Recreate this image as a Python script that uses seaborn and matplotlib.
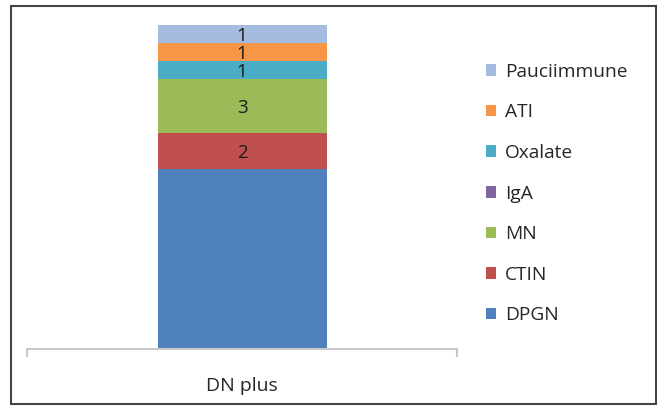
import numpy as np
import pandas as pd
import matplotlib
matplotlib.use("Agg")
import matplotlib.pyplot as plt
import seaborn as sns
from matplotlib.patches import Rectangle, Patch

# data, bottom to top of the stack
group = "DN plus"
categories = ["DPGN", "CTIN", "MN", "IgA", "Oxalate", "ATI", "Pauciimmune"]
counts = [10, 2, 3, 0, 1, 1, 1]
show_label = [False, True, True, False, True, True, True]
colors = ["#4F81BD", "#C0504D", "#9BBB59", "#8064A2", "#4BACC6", "#F79646", "#A6BBE0"]

sns.set_style("white")
plt.rcParams["font.family"] = ["Open Sans", "DejaVu Sans"]

df = pd.DataFrame({"group": group, "category": categories, "count": counts})
df["cum"] = df["count"].cumsum()

fig = plt.figure(figsize=(6.59, 4.07), dpi=100)
ax = fig.add_axes([27 / 659, 58 / 407, 430 / 659, 324 / 407])

# stacked bar: draw cumulative totals from the top layer down
bar_w = 169 / 430
for i in range(len(categories) - 1, -1, -1):
    sns.barplot(x=[group], y=[df["cum"].iloc[i]], color=colors[i], width=bar_w,
                saturation=1, ax=ax, edgecolor="none", linewidth=0)

bottoms = df["cum"] - df["count"]
for i, row in df.iterrows():
    if show_label[i]:
        ax.text(0, bottoms[i] + row["count"] / 2, str(row["count"]), ha="center",
                va="center_baseline", fontsize=13.5, color="#1a1a1a")

ax.set_xlim(-0.5, 0.5)
ax.set_ylim(0, df["cum"].iloc[-1])
ax.set_yticks([])
ax.set_xticks([0])
ax.set_xticklabels([group], fontsize=14)
ax.tick_params(axis="x", which="major", bottom=True, length=0, pad=20)
ax.set_xticks([-0.5, 0.5], minor=True)
ax.tick_params(axis="x", which="minor", bottom=True, length=6, width=1.5,
               color="#C8C8C8", direction="out")
ax.set_xlabel("")
ax.set_ylabel("")
for s in ["top", "right", "left"]:
    ax.spines[s].set_visible(False)
ax.spines["bottom"].set_color("#C8C8C8")
ax.spines["bottom"].set_linewidth(1.5)

# legend, top entry first
handles = [Patch(facecolor=colors[i], edgecolor="none") for i in range(len(categories) - 1, -1, -1)]
labels = categories[::-1]
fig.legend(handles, labels, loc="upper left", bbox_to_anchor=(478 / 659, 1 - 55 / 407),
           frameon=False, fontsize=13.8, handlelength=0.55, handleheight=0.55,
           handletextpad=0.45, labelspacing=1.18, borderaxespad=0)

# outer frame
fig.patches.append(Rectangle((11 / 659, 3 / 407), 645 / 659, 398 / 407, transform=fig.transFigure,
                             fill=False, edgecolor="#444444", linewidth=1.5))

fig.savefig("out.png", dpi=100)
